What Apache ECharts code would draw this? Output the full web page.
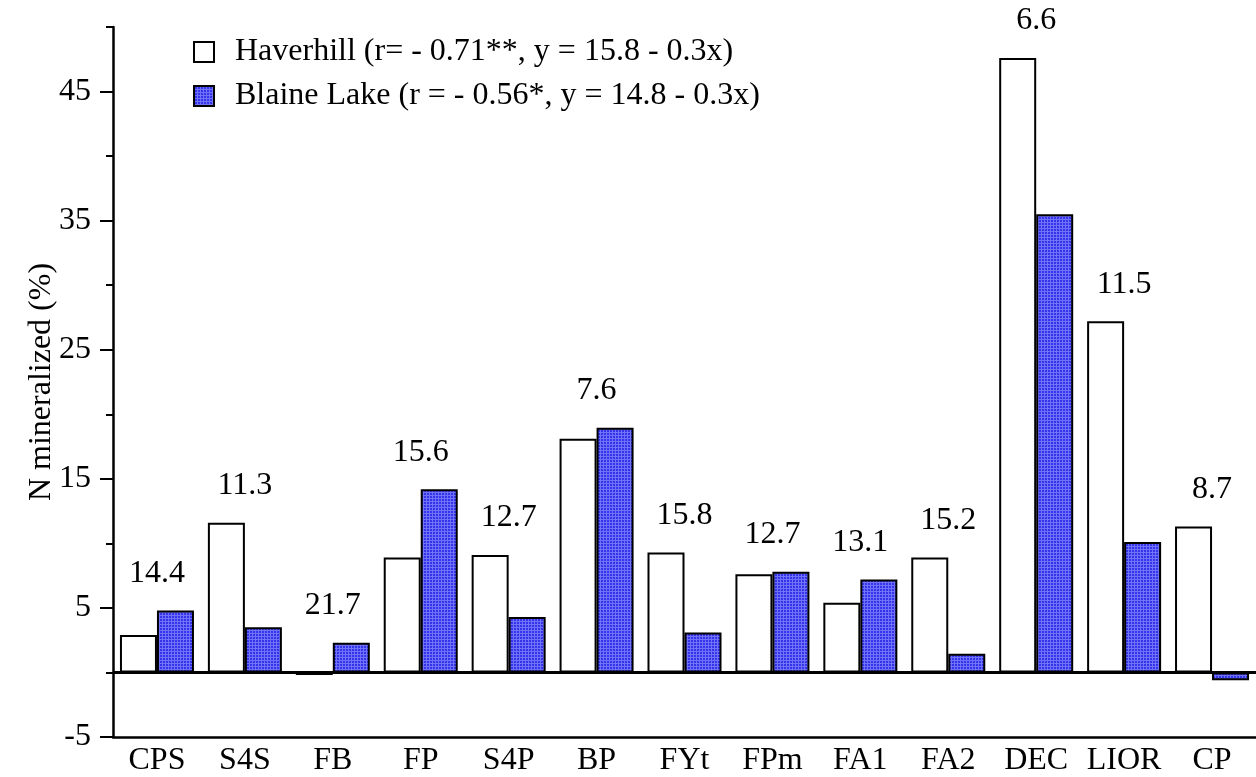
<!DOCTYPE html>
<html>
<head>
<meta charset="utf-8">
<script src="https://cdn.jsdelivr.net/npm/echarts@6/dist/echarts.min.js"></script>
<style>html,body{margin:0;padding:0;background:#fff;}#chart{width:1256px;height:777px;}</style>
</head>
<body>
<div id="chart"></div>
<script>
var categories = ['CPS','S4S','FB','FP','S4P','BP','FYt','FPm','FA1','FA2','DEC','LIOR','CP'];
var haverhill = [2.9, 11.6, -0.2, 8.9, 9.1, 18.1, 9.3, 7.6, 5.4, 8.9, 47.6, 27.2, 11.3];
var blaineLake = [4.8, 3.5, 2.3, 14.2, 4.3, 18.95, 3.1, 7.8, 7.2, 1.45, 35.5, 10.1, -0.6];
var groupLabels = ['14.4','11.3','21.7','15.6','12.7','7.6','15.8','12.7','13.1','15.2','6.6','11.5','8.7'];
var yMajorTicks = [-5, 5, 15, 25, 35, 45];
var seriesNames = ['Haverhill (r= - 0.71**, y = 15.8 - 0.3x)', 'Blaine Lake (r = - 0.56*, y = 14.8 - 0.3x)'];

var FONT = "'Liberation Serif','Times New Roman',serif";
var FS = 32;

// blue grid texture
var pc = document.createElement('canvas');
pc.width = 3; pc.height = 3;
var pctx = pc.getContext('2d');
pctx.fillStyle = '#3434ea'; pctx.fillRect(0,0,3,3);
pctx.fillStyle = '#7272f8'; pctx.fillRect(0,0,3,1); pctx.fillRect(0,0,1,3);
var bluePattern = {image: pc, repeat: 'repeat'};

var labelData = categories.map(function(c, i){
  return {value: [c, Math.max(haverhill[i], blaineLake[i])], label: {formatter: groupLabels[i]}};
});

var chart = echarts.init(document.getElementById('chart'), null, {renderer: 'canvas'});
chart.setOption({
  animation: false,
  backgroundColor: '#fff',
  textStyle: {fontFamily: FONT},
  grid: {left: 113, right: 0, top: 27, bottom: 40, containLabel: false},
  legend: {
    orient: 'vertical', left: 193, top: 36, padding: 0,
    itemWidth: 20, itemHeight: 20, itemGap: 12,
    icon: 'rect',
    textStyle: {fontFamily: FONT, fontSize: FS, color: '#000', padding: [0,0,0,16]},
    data: [
      {name: seriesNames[0], itemStyle: {color: '#fff', borderColor: '#000', borderWidth: 2}},
      {name: seriesNames[1], itemStyle: {color: bluePattern, borderColor: '#000', borderWidth: 2}}
    ]
  },
  xAxis: {
    type: 'category', data: categories,
    axisLine: {onZero: false, lineStyle: {color: '#000', width: 2.5}},
    axisTick: {show: false},
    axisLabel: {color: '#000', fontFamily: FONT, fontSize: FS, margin: 8, interval: 0},
    splitLine: {show: false}
  },
  yAxis: [
    {
      type: 'value', min: -5, max: 50, interval: 5, position: 'left',
      name: 'N mineralized (%)', nameLocation: 'middle', nameGap: 55,
      nameTextStyle: {color: '#000', fontFamily: FONT, fontSize: FS},
      axisLine: {show: true, lineStyle: {color: '#000', width: 2.5}},
      axisTick: {show: true, inside: false, length: 7, lineStyle: {color: '#000', width: 2}},
      axisLabel: {show: false},
      splitLine: {show: false}
    },
    {
      type: 'value', min: -5, max: 50, interval: 5, position: 'left',
      axisLine: {show: false},
      axisTick: {show: true, length: 13, customValues: yMajorTicks, lineStyle: {color: '#000', width: 2}},
      axisLabel: {show: true, customValues: yMajorTicks, color: '#000', fontFamily: FONT, fontSize: FS, margin: 22},
      splitLine: {show: false}
    }
  ],
  series: [
    {
      name: seriesNames[0], type: 'bar', data: haverhill, barWidth: 37, barGap: '0%',
      itemStyle: {color: '#fff', borderColor: '#000', borderWidth: 2},
      markLine: {
        silent: true, symbol: 'none', label: {show: false},
        lineStyle: {color: '#000', width: 3, type: 'solid'},
        data: [{yAxis: 0}]
      }
    },
    {
      name: seriesNames[1], type: 'bar', data: blaineLake, barWidth: 37, barGap: '0%',
      itemStyle: {color: bluePattern, borderColor: '#000', borderWidth: 2}
    },
    {
      name: 'labels', type: 'scatter', data: labelData, symbolSize: 0.1,
      itemStyle: {color: 'rgba(0,0,0,0)', opacity: 1},
      label: {show: true, position: 'top', distance: 21, color: '#000', fontFamily: FONT, fontSize: FS},
      silent: true, z: 5
    }
  ]
});
</script>
</body>
</html>
